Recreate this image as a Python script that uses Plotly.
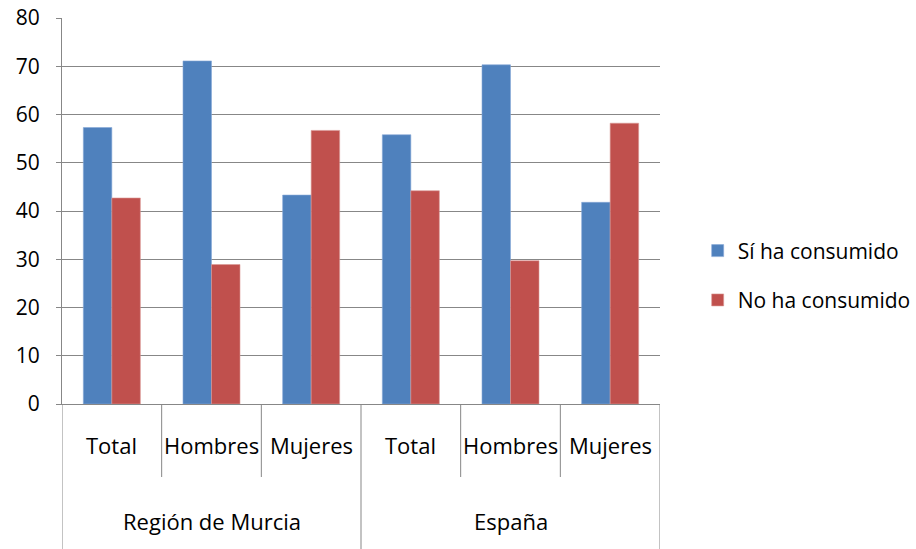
import plotly.graph_objects as go

regions = ["Región de Murcia", "España"]
groups = ["Total", "Hombres", "Mujeres", "Total", "Hombres", "Mujeres"]
si_consumido = [57.3, 71.1, 43.3, 55.8, 70.3, 41.8]
no_consumido = [42.7, 28.9, 56.7, 44.2, 29.7, 58.2]
y_ticks = [0, 10, 20, 30, 40, 50, 60, 70, 80]

FONT = "Open Sans"
GRID = "#878787"
PLOT_H = 386  # plot area height in px, used to convert px offsets to paper units

xpos = list(range(len(groups)))
n_per_region = len(groups) // len(regions)

fig = go.Figure()
fig.add_trace(go.Bar(x=xpos, y=si_consumido, name="Sí ha consumido",
                     marker=dict(color="#4F81BD", line=dict(color="#86A8D6", width=0.6)),
                     legendgroup="a"))
fig.add_trace(go.Bar(x=xpos, y=no_consumido, name="No ha consumido",
                     marker=dict(color="#C0504D", line=dict(color="#DA9896", width=0.6)),
                     legendgroup="b"))

# category tick lines and region dividers below the axis
for i in range(len(groups) + 1):
    xb = i - 0.5
    is_div = (i % n_per_region == 0)
    depth = 145 if is_div else 73
    fig.add_shape(type="line", xref="x", yref="paper", x0=xb, x1=xb, y0=0, y1=-depth / PLOT_H,
                  line=dict(color=GRID, width=1), layer="above")

# category labels
for i, g in enumerate(groups):
    fig.add_annotation(x=i, y=-41 / PLOT_H, xref="x", yref="paper", text=g, showarrow=False,
                       xanchor="center", yanchor="middle",
                       font=dict(family=FONT, size=22, color="black"))
for j, r in enumerate(regions):
    fig.add_annotation(x=j * n_per_region + (n_per_region - 1) / 2, y=-117 / PLOT_H,
                       xref="x", yref="paper", text=r, showarrow=False,
                       xanchor="center", yanchor="middle",
                       font=dict(family=FONT, size=22, color="black"))

fig.update_layout(
    width=916, height=549,
    margin=dict(l=62, r=256, t=18, b=145, autoexpand=False),
    paper_bgcolor="white", plot_bgcolor="white",
    barmode="group", bargap=0.428, bargroupgap=0,
    font=dict(family=FONT, size=21, color="black"),
    legend=dict(x=1.063, y=0.333, xanchor="left", yanchor="middle",
                traceorder="grouped", tracegroupgap=19,
                font=dict(family=FONT, size=21, color="black"),
                itemwidth=30, bgcolor="rgba(0,0,0,0)"),
    showlegend=True,
)
fig.update_xaxes(
    range=[-0.5, len(groups) - 0.5], showline=True, linecolor=GRID, linewidth=1,
    ticks="", showticklabels=False, showgrid=False, zeroline=False, automargin=False,
)
fig.update_yaxes(
    range=[0, 80], tickvals=y_ticks, showgrid=True, gridcolor=GRID, gridwidth=1,
    showline=True, linecolor=GRID, linewidth=1, ticks="outside", ticklen=5, tickcolor=GRID,
    ticklabelstandoff=12, automargin=False, ticklabeloverflow="allow",
    tickfont=dict(family=FONT, size=21, color="black"), zeroline=False,
)
fig.write_html("out.html", config={"displayModeBar": False},
               post_script="document.body.style.margin='0';")
